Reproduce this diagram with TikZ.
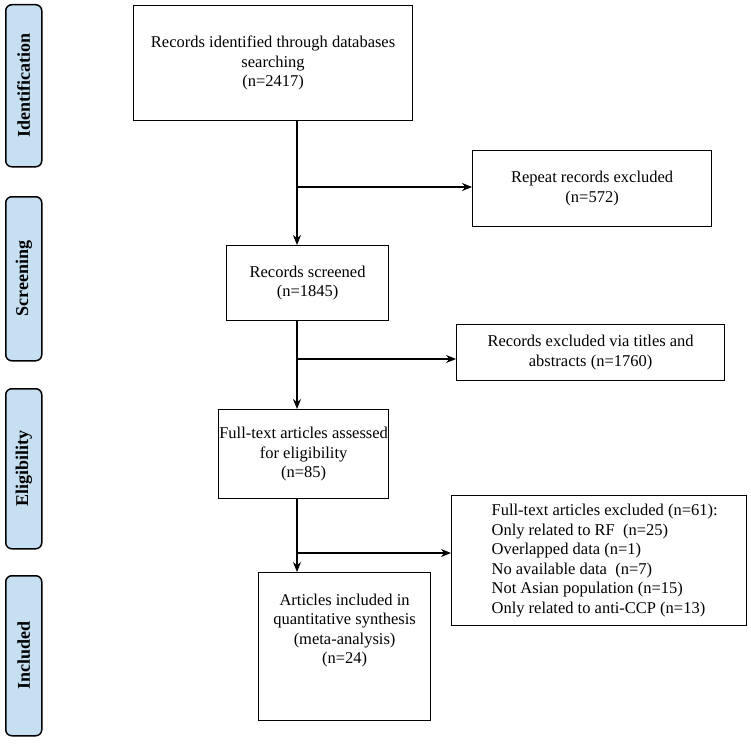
\documentclass[tikz,border=0pt]{standalone}
\usepackage{fontspec}
\setmainfont{Liberation Serif}
\usetikzlibrary{arrows.meta}
\definecolor{sidefill}{HTML}{C6E0F2}
\begin{document}
\begin{tikzpicture}[x=1pt,y=-1pt,
 box/.style={draw,line width=1.2pt,align=center,font=\fontsize{16.5}{19.5}\selectfont,inner sep=0},
 side/.style={draw,line width=1.5pt,rounded corners=6pt,fill=sidefill},
 arr/.style={line width=1.2pt,-{Stealth[length=10pt,width=8pt]}}]
\useasboundingbox (0,0) rectangle (751,746);
\foreach \n/\t/\a/\b in {s1/Identification/4/166,s2/Screening/196/360,s3/Eligibility/388/548,s4/Included/575/735}{
 \node[side,minimum width=36,minimum height=\b-\a,anchor=north west] (\n) at (5,\a) {};
 \node[rotate=90,font=\bfseries\fontsize{18}{20}\selectfont] at (\n.center) {\t};}
\node[box,minimum width=279,minimum height=115,anchor=north west] (b1) at (133,5) {Records identified through databases\\searching\\(n=2417)};
\node[box,minimum width=239,minimum height=76,anchor=north west] (r1) at (472,150) {Repeat records excluded\\(n=572)};
\node[box,minimum width=162,minimum height=75,anchor=north west] (b2) at (226,245) {Records screened\\(n=1845)};
\node[box,minimum width=268,minimum height=56,anchor=north west] (r2) at (456,324) {Records excluded via titles and\\abstracts (n=1760)};
\node[box,minimum width=170,minimum height=89,anchor=north west] (b3) at (218,409) {Full-text articles assessed\\for eligibility\\(n=85)};
\node[box,minimum width=295,minimum height=130,anchor=north west,align=left] (r3) at (451,495) {\hspace*{11pt}\begin{tabular}{@{}l@{}}Full-text articles excluded (n=61):\\Only related to RF\ \ (n=25)\\Overlapped data (n=1)\\No available data\ \ (n=7)\\Not Asian population (n=15)\\Only related to anti-CCP (n=13)\end{tabular}\hfill};
\node[box,minimum width=172,minimum height=148,anchor=north west] (b4) at (258,572) {Articles included in\\quantitative synthesis\\(meta-analysis)\\(n=24)\\[16pt]};
\coordinate (j1) at (297,187); \coordinate (j2) at (297,359); \coordinate (j3) at (297,553);
\draw[arr] (b1.south -| j1) -- (b2.north -| j1);
\draw[arr] (j1) -- (j1 -| r1.west);
\draw[arr] (b2.south -| j2) -- (b3.north -| j2);
\draw[arr] (j2) -- (j2 -| r2.west);
\draw[arr] (b3.south -| j3) -- (b4.north -| j3);
\draw[arr] (j3) -- (j3 -| r3.west);
\end{tikzpicture}
\end{document}
